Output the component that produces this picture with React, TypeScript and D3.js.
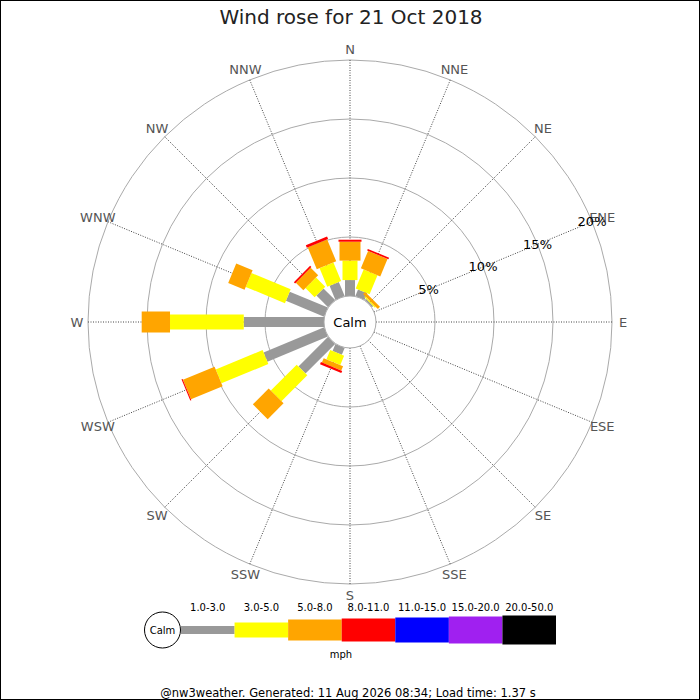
import React from 'react';
import * as d3 from 'd3';

// compass directions, clockwise from north
const directions = ['N', 'NNE', 'NE', 'ENE', 'E', 'ESE', 'SE', 'SSE', 'S', 'SSW', 'SW', 'WSW', 'W', 'WNW', 'NW', 'NNW'];

// speed bands (mph) and their colours
const bands = ['1.0-3.0', '3.0-5.0', '5.0-8.0', '8.0-11.0', '11.0-15.0', '15.0-20.0', '20.0-50.0'];
const bandColors = ['#999999', '#ffff00', '#ffa500', '#ff0000', '#0000ff', '#a020f0', '#000000'];

// percentage of time per direction, one array per band
const band1to3 = [1.35, 0.6, 0.15, 0, 0, 0, 0, 0, 0, 0.63, 3.55, 5.55, 6.8, 3.5, 1.4, 1.3];
const band3to5 = [1.65, 1.75, 0.1, 0, 0, 0, 0, 0, 0, 0.85, 3.1, 4.3, 6.25, 3.6, 1.1, 1.7];
const band5to8 = [1.6, 1.6, 0.25, 0, 0, 0, 0, 0, 0, 0.4, 1.9, 2.9, 2.4, 1.5, 0.9, 2.0];
const band8to11 = [0.17, 0.15, 0, 0, 0, 0, 0, 0, 0, 0.2, 0, 0.1, 0, 0, 0.15, 0.23];
const band11to15 = [0, 0, 0, 0, 0, 0, 0, 0, 0, 0, 0, 0, 0, 0, 0, 0];
const band15to20 = [0, 0, 0, 0, 0, 0, 0, 0, 0, 0, 0, 0, 0, 0, 0, 0];
const band20to50 = [0, 0, 0, 0, 0, 0, 0, 0, 0, 0, 0, 0, 0, 0, 0, 0];
const bandValues = [band1to3, band3to5, band5to8, band8to11, band11to15, band15to20, band20to50];

const ringTicks = [5, 10, 15, 20];

const title = 'Wind rose for 21 Oct 2018';
const footer = '@nw3weather. Generated: 11 Aug 2026 08:34; Load time: 1.37 s';

const W = 700;
const H = 700;
const cx = 350;
const cy = 322;
const calmR = 26;
const font = '"DejaVu Sans", Verdana, sans-serif';

const barWidths = [10, 15, 21, 23, 25, 27, 29];
const legendHeights = [8, 15, 21, 23, 25, 27, 29];

const App = () => {
  const r = d3.scaleLinear().domain([0, 20]).range([calmR, 262]);
  const angle = d3.scaleLinear().domain([0, directions.length]).range([0, 360]);
  const rad = (deg: number) => (deg * Math.PI) / 180;

  // stack the bands per direction
  const segments: { dir: number; band: number; r0: number; r1: number }[] = [];
  directions.forEach((_, i) => {
    let cum = 0;
    bandValues.forEach((vals, b) => {
      const v = vals[i];
      if (v > 0) {
        segments.push({ dir: i, band: b, r0: r(cum), r1: r(cum + v) });
        cum += v;
      }
    });
  });

  const legendX = d3.scaleLinear().domain([0, bands.length]).range([181, 556]);
  const labelAngle = angle(3); // ENE

  return (
    <svg width={W} height={H} style={{ display: 'block', fontFamily: font }}>
      <style>{`body{margin:0}`}</style>
      <rect x={0.5} y={0.5} width={W - 1} height={H - 1} fill="#fff" stroke="#000" />
      <text x={351} y={24} textAnchor="middle" fontSize={20} fill="#222">{title}</text>

      {/* rings */}
      {ringTicks.map(t => (
        <circle key={t} cx={cx} cy={cy} r={r(t)} fill="none" stroke="#aaa" strokeWidth={1} />
      ))}

      {/* spokes */}
      {directions.map((d, i) => {
        const a = rad(angle(i));
        return (
          <line key={d}
            x1={cx + calmR * Math.sin(a)} y1={cy - calmR * Math.cos(a)}
            x2={cx + r(20) * Math.sin(a)} y2={cy - r(20) * Math.cos(a)}
            stroke="#444" strokeWidth={1} strokeDasharray="1,1.5" />
        );
      })}

      {/* direction labels */}
      {directions.map((d, i) => {
        const a = rad(angle(i));
        return (
          <text key={d} x={cx + 273 * Math.sin(a)} y={cy - 273 * Math.cos(a)}
            textAnchor="middle" dominantBaseline="central" fontSize={13} fill="#555">{d}</text>
        );
      })}

      {/* bars */}
      {segments.map((s, k) => (
        <rect key={k}
          x={-barWidths[s.band] / 2} y={-s.r1}
          width={barWidths[s.band]} height={s.r1 - s.r0}
          fill={bandColors[s.band]}
          transform={`translate(${cx},${cy}) rotate(${angle(s.dir)})`} />
      ))}

      {/* percent labels */}
      {ringTicks.map(t => {
        const a = rad(labelAngle);
        return (
          <text key={t} x={cx + r(t) * Math.sin(a)} y={cy - r(t) * Math.cos(a)}
            textAnchor="middle" dominantBaseline="central" fontSize={13} fill="#000">{t}%</text>
        );
      })}

      {/* calm */}
      <circle cx={cx} cy={cy} r={calmR} fill="#fff" stroke="#aaa" />
      <text x={cx} y={cy} textAnchor="middle" dominantBaseline="central" fontSize={13} fill="#000">Calm</text>

      {/* legend */}
      <g>
        <circle cx={162.5} cy={630} r={18} fill="#fff" stroke="#000" />
        <text x={162.5} y={630} textAnchor="middle" dominantBaseline="central" fontSize={10}>Calm</text>
        {bands.map((b, i) => (
          <g key={b}>
            <rect x={legendX(i)} y={630 - legendHeights[i] / 2}
              width={legendX(i + 1) - legendX(i)} height={legendHeights[i]}
              fill={bandColors[i]} />
            <text x={(legendX(i) + legendX(i + 1)) / 2} y={607}
              textAnchor="middle" dominantBaseline="central" fontSize={10}>{b}</text>
          </g>
        ))}
        <text x={341} y={654} textAnchor="middle" dominantBaseline="central" fontSize={10}>mph</text>
      </g>

      <text x={348} y={693} textAnchor="middle" dominantBaseline="central" fontSize={11.5}>{footer}</text>
    </svg>
  );
};

export default App;
